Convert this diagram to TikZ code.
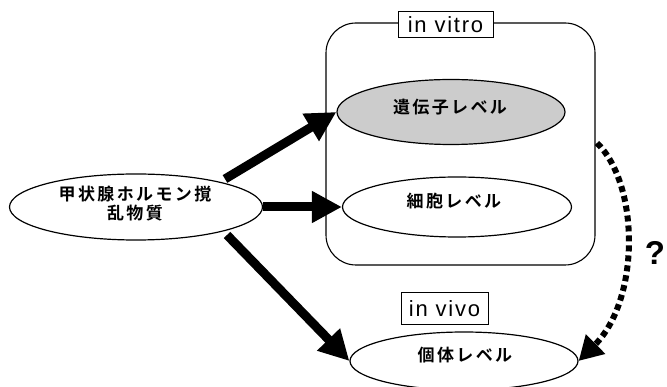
\documentclass[tikz,border=0pt]{standalone}
\usepackage{fontspec}
\newfontfamily\jp{Noto Sans CJK JP}[BoldFont={* Bold},LetterSpace=14]
\newfontfamily\lab{Liberation Sans}[LetterSpace=8]
\newfontfamily\qfont{Liberation Sans}
\usetikzlibrary{arrows.meta,shapes.geometric}
\begin{document}
\begin{tikzpicture}[x=1pt,y=-1pt,
  ell/.style={draw,ellipse,line width=1.2pt,inner sep=0pt},
  jtext/.style={font=\jp\bfseries\fontsize{17}{19}\selectfont},
  labbox/.style={draw,fill=white,line width=1pt,inner sep=2pt,font=\lab\fontsize{22}{24}\selectfont},
  bigarrow/.style={line width=9pt,-{Triangle[length=30pt,width=30pt]}},
  dotarrow/.style={line width=6pt,dash pattern=on 6pt off 4pt,-{Triangle[length=24pt,width=26pt]}}]
\useasboundingbox (0,0) rectangle (667,387);
% in vitro box
\draw[line width=1.1pt,rounded corners=30pt] (326,23) rectangle (595,265);
\node[labbox,minimum width=95pt,minimum height=26pt] (vitro) at (445.5,25) {in vitro};
% ellipses
\node[ell,minimum width=253pt,minimum height=66pt] (src) at (136,207) {};
\node[jtext,align=center] at (135,204) {甲状腺ホルモン撹\\乱物質};
\node[ell,fill=gray!40,minimum width=228pt,minimum height=65pt] (gene) at (451,112) {};
\node[jtext] at (450,107) {遺伝子レベル};
\node[ell,fill=white,minimum width=229pt,minimum height=60pt] (cell) at (457,207) {};
\node[jtext] at (454,201) {細胞レベル};
\node[ell,fill=white,minimum width=228pt,minimum height=58pt] (indiv) at (464,361) {};
\node[jtext] at (465,355) {個体レベル};
\node[labbox,minimum width=87pt,minimum height=32pt] (vivo) at (444.5,308.5) {in vivo};
% arrows
\coordinate (a1s) at (225,179);
\coordinate (a3s) at (227,235);
\draw[bigarrow] (a1s) -- (gene.west);
\draw[bigarrow] (src.east) -- (cell.west);
\draw[bigarrow] (a3s) -- (indiv.west);
\coordinate (ds) at (597,143);
\draw[dotarrow] (ds) .. controls (640,185) and (640,300) .. (indiv.east);
\node[inner sep=0pt,font=\qfont\bfseries\fontsize{33}{35}\selectfont] (q) at (655,253) {?};
\end{tikzpicture}
\end{document}
